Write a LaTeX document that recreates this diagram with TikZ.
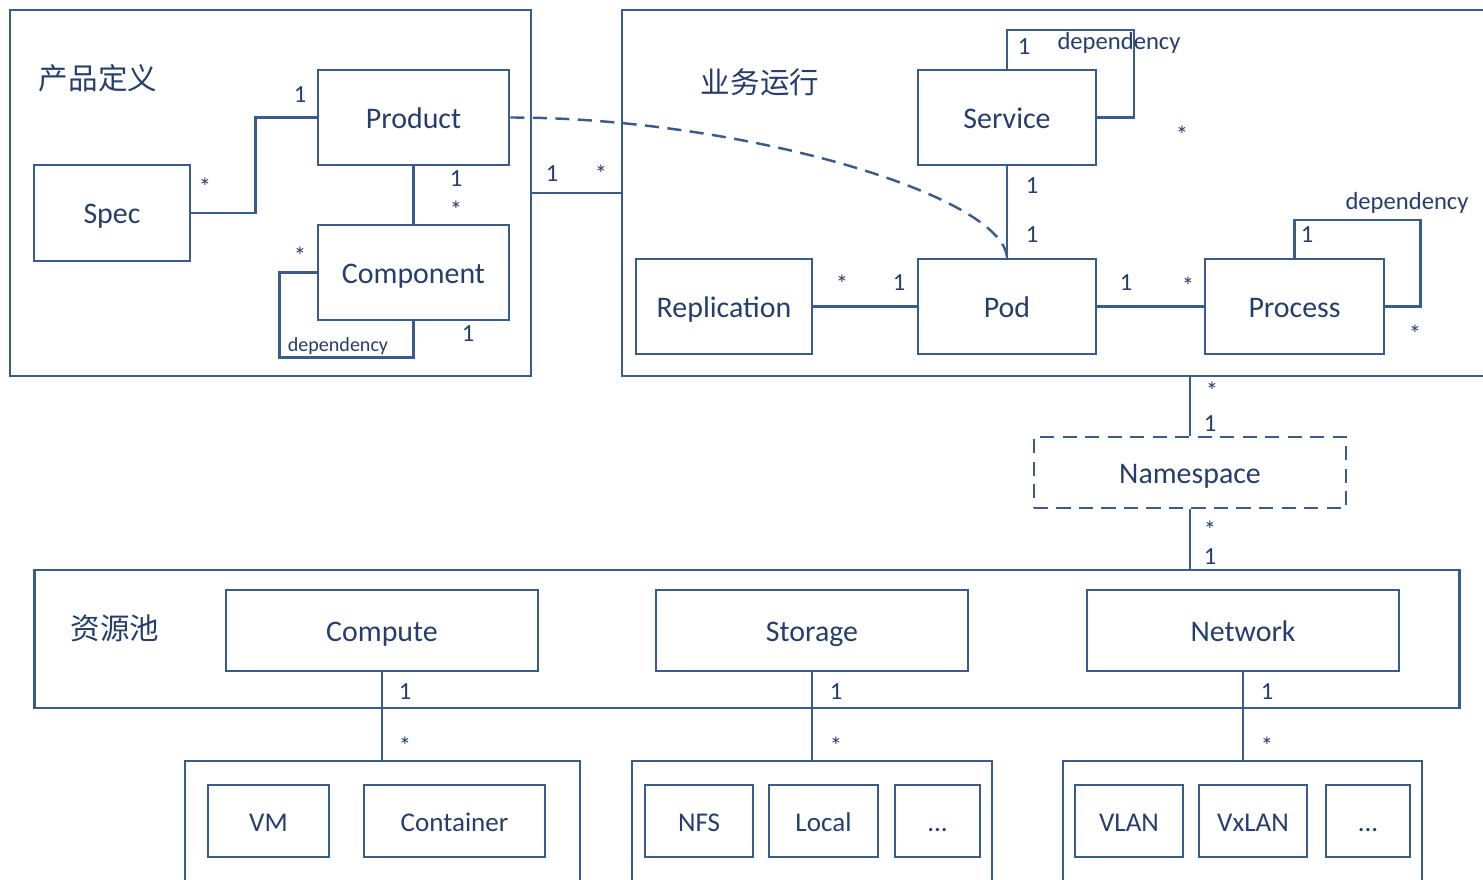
\documentclass[tikz,border=0pt]{standalone}
\usepackage{fontspec}
\setmainfont{Carlito}
\newfontfamily\cjk{Noto Sans CJK SC}
\definecolor{umlline}{RGB}{58,92,138}
\definecolor{umltext}{RGB}{38,62,108}
\begin{document}
\begin{tikzpicture}
[x=0.01cm,y=-0.01cm,line width=0.7pt,color=umlline]
\tikzstyle{every node}=[inner sep=0pt,text=umltext]
\tikzstyle{group}=[draw=umlline,rectangle]
\tikzstyle{cls}=[draw=umlline,rectangle,minimum height=0.95cm,text height=0.64em,text depth=0.04em,font=\fontsize{8.5}{10}\selectfont]
\tikzstyle{res}=[draw=umlline,rectangle,minimum width=3.12cm,minimum height=0.81cm,text height=0.64em,text depth=0.04em,font=\fontsize{8.5}{10}\selectfont]
\tikzstyle{leaf}=[draw=umlline,rectangle,minimum height=0.72cm,text height=0.64em,text depth=0.04em,font=\fontsize{7.7}{9}\selectfont]
\tikzstyle{mult}=[font=\fontsize{7}{8}\selectfont]
\tikzstyle{title}=[font=\cjk\fontsize{8.4}{10}\selectfont]
\tikzstyle{relation}=[dash pattern=on 4pt off 2.4pt]
\useasboundingbox (0,0) rectangle (1483,879);
\clip (0,0) rectangle (1483,879);
\node[group,minimum width=5.21cm,minimum height=3.66cm] (defbox) at (270.5,193) {};
\node[group,minimum width=8.78cm,minimum height=3.66cm] (runbox) at (1061,193) {};
\node[group,minimum width=14.24cm,minimum height=1.38cm] (poolbox) at (747,639) {};
\node[group,minimum width=3.95cm,minimum height=1.39cm] (computeset) at (382.5,830.5) {};
\node[group,minimum width=3.60cm,minimum height=1.39cm] (storageset) at (812,830.5) {};
\node[group,minimum width=3.59cm,minimum height=1.39cm] (networkset) at (1242.5,830.5) {};
\node[title] (deftitle) at (98,78) {产品定义};
\node[title] (runtitle) at (760,82) {业务运行};
\node[title] (pooltitle) at (115,628) {资源池};
\node[cls,minimum width=1.56cm,minimum height=0.96cm] (spec) at (112,213) {Spec};
\node[cls,minimum width=1.91cm] (product) at (413.5,117.5) {Product};
\node[cls,minimum width=1.91cm] (component) at (413.5,272.5) {Component};
\node[cls,minimum width=1.78cm] (service) at (1007,117.5) {Service};
\node[cls,minimum width=1.78cm] (pod) at (1007,306.5) {Pod};
\node[cls,minimum width=1.76cm] (replication) at (724,306.5) {Replication};
\node[cls,minimum width=1.79cm] (process) at (1294.5,306.5) {Process};
\node[res,relation,minimum height=0.71cm] (namespace) at (1190,472.5) {Namespace};
\node[res] (compute) at (382,630.5) {Compute};
\node[res] (storage) at (812,630.5) {Storage};
\node[res] (network) at (1243,630.5) {Network};
\node[leaf,minimum width=1.21cm] (vm) at (268.5,821) {VM};
\node[leaf,minimum width=1.81cm] (container) at (454.5,821) {Container};
\node[leaf,minimum width=1.08cm] (nfs) at (699,821) {NFS};
\node[leaf,minimum width=1.09cm] (local) at (823.5,821) {Local};
\node[leaf,minimum width=0.85cm] (storagemore) at (937.5,821) {...};
\node[leaf,minimum width=1.08cm] (vlan) at (1129,821) {VLAN};
\node[leaf,minimum width=1.08cm] (vxlan) at (1253,821) {VxLAN};
\node[leaf,minimum width=0.84cm] (networkmore) at (1368,821) {...};
\draw (spec.east) -- ++(64,0) |- (product.west);
\draw (product.south) -- (component.north);
\draw (component.west) -- ++(-37,0) -- ++(0,85) -| (component.south);
\draw (defbox.east) -- (runbox.west);
\draw[relation] (product.east) .. controls (740,117.5) and (1003,195) .. (pod.north);
\draw (service.north) -- ++(0,-39) -- ++(127,0) |- (service.east);
\draw (service.south) -- (pod.north);
\draw (replication.east) -- (pod.west);
\draw (pod.east) -- (process.west);
\draw (process.north) -- ++(0,-38) -- ++(126,0) |- (process.east);
\draw (namespace.north |- runbox.south) -- (namespace.north);
\draw (namespace.south) -- (namespace.south |- poolbox.north);
\draw (compute.south) -- (compute.south |- computeset.north);
\draw (storage.south) -- (storage.south |- storageset.north);
\draw (network.south) -- (network.south |- networkset.north);
\node[mult] (m1) at (300,95) {1};
\node[mult] (m2) at (205,187) {*};
\node[mult] (m3) at (456,179) {1};
\node[mult] (m4) at (456,210) {*};
\node[mult] (m5) at (300,256) {*};
\node[mult] (m6) at (468,334) {1};
\node[mult,font=\fontsize{5.7}{7}\selectfont] (depcomponent) at (338,346) {dependency};
\node[mult] (m7) at (552,174) {1};
\node[mult] (m8) at (601,174) {*};
\node[mult] (m9) at (1024,47) {1};
\node[mult] (depservice) at (1119,43) {dependency};
\node[mult] (m10) at (1182,135) {*};
\node[mult] (m11) at (1032,186) {1};
\node[mult] (m12) at (1032,235) {1};
\node[mult] (m13) at (842,284) {*};
\node[mult] (m14) at (899,283) {1};
\node[mult] (m15) at (1126,283) {1};
\node[mult] (m16) at (1188,286) {*};
\node[mult] (depprocess) at (1407,203) {dependency};
\node[mult] (m17) at (1307,235) {1};
\node[mult] (m18) at (1415,334) {*};
\node[mult] (m19) at (1212,391) {*};
\node[mult] (m20) at (1210,424) {1};
\node[mult] (m21) at (1210,530) {*};
\node[mult] (m22) at (1210,557) {1};
\node[mult] (m23) at (405,692) {1};
\node[mult] (m24) at (405,746) {*};
\node[mult] (m25) at (836,692) {1};
\node[mult] (m26) at (836,746) {*};
\node[mult] (m27) at (1267,692) {1};
\node[mult] (m28) at (1267,746) {*};
\end{tikzpicture}
\end{document}
